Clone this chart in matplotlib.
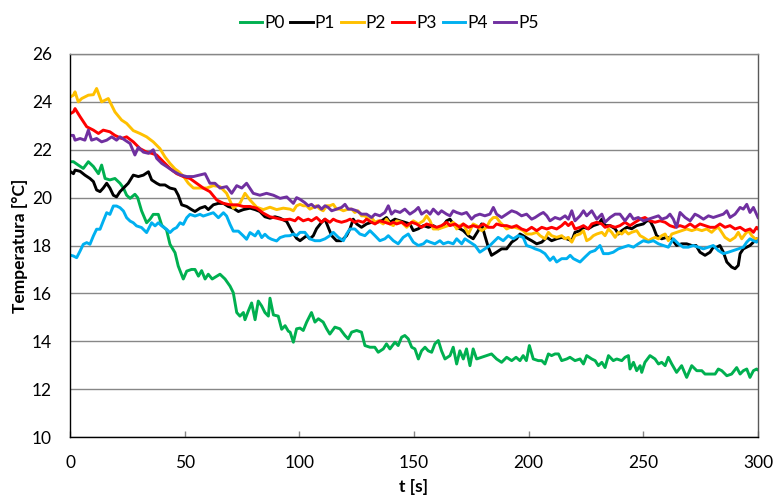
import matplotlib
matplotlib.use("Agg")
import matplotlib.pyplot as plt

# ---- data (time [s], temperature [°C]) ----
t_p0 = [0, 1.5, 3.6, 5.8, 8, 10.2, 12.4, 13.8, 15.3, 17.4, 19.6, 21.8, 23.3, 24.7, 26.2, 28.3, 29.5, 31.2, 33.4, 34.9,
        36.3, 38.5, 40, 42.1, 43.6, 45.8, 47.2, 49.4, 50.9, 53, 54.5, 56, 57.4, 58.9, 60.3, 62, 64, 65.4, 67.6, 69.8,
        71.2, 72.7, 74.1, 75.6, 76.3, 77.7, 79.2, 80.7, 82.1, 83.6, 85, 86.5, 87.2, 88.7, 90.8, 92.3, 93.8, 95.2, 96,
        97.4, 98.8, 100.3, 101.7, 103.2, 105.3, 106.8, 108.3, 110.4, 111.9, 113.3, 115.5, 117.7, 119.9, 121.3, 122.8,
        125, 127.1, 128.6, 130.8, 132.9, 134.4, 136.6, 138, 139.5, 141.7, 143.1, 144.6, 146, 147.5, 149, 150.4, 151.9,
        153.3, 154.8, 156.2, 157.7, 159.1, 160.6, 162, 163.5, 165.7, 167.1, 168.6, 170, 171.5, 172.9, 174.4, 175.8,
        177.3, 179.5, 181.7, 183.8, 186, 188.2, 190.4, 192.6, 194.5, 196.2, 197.6, 199, 200.3, 202, 204.2, 205.7,
        207.1, 208.6, 210, 211.5, 213, 214.4, 216.6, 218, 220.2, 222.4, 223.9, 225.3, 227.5, 229, 230.4, 231.9, 233.3,
        234.8, 236.9, 238.4, 240.6, 242, 243.5, 244.2, 245.7, 247.1, 248.6, 249.3, 250.7, 252.9, 255.1, 256.6, 258,
        259.5, 260.9, 262.4, 264.5, 266.7, 268.9, 271.1, 273.3, 275.5, 276.9, 279.1, 281.3, 282.7, 284.2, 286.4,
        288.5, 290.7, 292.2, 293.6, 295.1, 296.5, 298, 299.4, 300]
T_p0 = [21.5, 21.5, 21.36, 21.22, 21.5, 21.3, 21.0, 21.36, 20.8, 20.74, 20.8, 20.6, 20.4, 20.1, 19.97, 20.14, 20.0,
        19.45, 18.95, 19.1, 19.3, 19.3, 18.85, 18.65, 18.05, 17.7, 17.14, 16.6, 16.93, 17.0, 17.0, 16.72, 16.95, 16.6,
        16.8, 16.6, 16.72, 16.8, 16.6, 16.3, 16.03, 15.2, 15.05, 15.2, 14.9, 15.25, 15.6, 14.9, 15.68, 15.47, 15.2,
        15.05, 15.8, 15.1, 15.05, 14.5, 14.65, 14.42, 14.38, 13.96, 14.52, 14.55, 14.45, 14.8, 15.2, 14.8, 14.94, 14.8,
        14.52, 14.3, 14.59, 14.52, 14.24, 14.1, 14.38, 14.45, 14.38, 13.82, 13.75, 13.75, 13.54, 13.68, 13.89, 13.68,
        13.96, 13.82, 14.17, 14.24, 14.1, 13.75, 13.68, 13.26, 13.6, 13.75, 13.6, 13.54, 13.89, 14.03, 13.6, 13.26,
        13.4, 13.75, 13.05, 13.6, 13.26, 13.68, 12.98, 13.68, 13.26, 13.33, 13.4, 13.47, 13.26, 13.12, 13.33, 13.19,
        13.33, 13.19, 13.4, 13.19, 13.82, 13.26, 13.19, 13.19, 13.05, 13.47, 13.4, 13.47, 13.47, 13.19, 13.26, 13.33,
        13.19, 13.26, 13.05, 13.4, 13.26, 13.19, 12.98, 13.12, 12.9, 13.4, 13.19, 13.26, 13.19, 13.33, 13.4, 12.84,
        13.12, 12.77, 12.98, 12.7, 13.12, 13.4, 13.26, 13.05, 13.12, 12.98, 13.33, 13.05, 12.7, 12.98, 12.49, 12.98,
        12.77, 12.77, 12.63, 12.63, 12.63, 12.84, 12.77, 12.56, 12.63, 12.9, 12.63, 12.77, 12.84, 12.49, 12.77, 12.84,
        12.8]

t_p1 = [0, 1.5, 2.2, 4.4, 6.5, 8.7, 10.2, 11.6, 13.1, 14.5, 16, 17.4, 18.9, 20.3, 21.8, 24, 25.4, 27.6, 29.8, 32,
        34.2, 35.6, 37.8, 39.2, 41.4, 43.6, 45.8, 47.2, 48.7, 50.9, 53, 54.5, 56.7, 58.9, 60.3, 62.5, 64.7, 66.9, 69,
        71.2, 73.4, 75.6, 78.5, 80.7, 82.8, 85, 87.2, 89.4, 91.6, 94.5, 96.7, 98.8, 100.3, 101.7, 103.2, 104.6, 106.1,
        107.5, 109.7, 111.2, 112.6, 114.1, 116.2, 118.4, 120.6, 122.1, 123.5, 125, 127.1, 129.3, 131.5, 133.7, 135.9,
        138, 139.5, 141.7, 143.9, 146, 148.2, 149.7, 151.9, 154.1, 156.3, 158.4, 160.6, 162.8, 164.2, 165.7, 167.1,
        168.6, 170, 171.5, 173.7, 175.8, 178, 179.5, 180.9, 182.4, 183.8, 186, 188.2, 190.4, 192.6, 194.7, 196.2,
        197.6, 199.8, 201.3, 203.5, 205.7, 207.9, 210, 212.2, 214.4, 216.6, 218.8, 220.2, 222.4, 223.9, 226, 228.2,
        230.4, 231.9, 233.3, 235.5, 237.7, 239.1, 240.6, 242.8, 244.9, 247.1, 250, 251.5, 252.9, 254.4, 255.8, 258,
        260.2, 262.4, 264.5, 266.7, 268.9, 271.1, 273, 274.7, 276.9, 279.1, 280.5, 282, 283.4, 284.9, 286.4, 288.5,
        290, 291.4, 292.2, 293.6, 295.1, 296.5, 298, 299.4, 300]
T_p1 = [21.1, 21.0, 21.15, 21.1, 20.94, 20.8, 20.67, 20.32, 20.25, 20.4, 20.6, 20.4, 20.1, 20.03, 20.25, 20.46, 20.6,
        20.94, 20.88, 20.94, 21.08, 20.74, 20.6, 20.53, 20.53, 20.4, 20.35, 20.1, 19.7, 19.63, 19.5, 19.42, 19.56,
        19.63, 19.5, 19.7, 19.76, 19.76, 19.63, 19.56, 19.42, 19.5, 19.56, 19.5, 19.42, 19.2, 19.14, 19.2, 19.14, 19.0,
        18.6, 18.3, 18.2, 18.3, 18.41, 18.28, 18.41, 18.7, 18.97, 19.1, 18.76, 18.41, 18.2, 18.2, 18.41, 18.7, 19.1,
        18.9, 18.76, 18.9, 18.97, 18.97, 19.03, 19.17, 18.97, 19.1, 19.03, 18.97, 18.9, 18.62, 18.7, 18.83, 18.76,
        18.83, 18.7, 18.83, 19.03, 19.1, 18.9, 18.76, 18.7, 18.62, 18.41, 18.28, 18.62, 18.9, 18.41, 17.93, 17.59,
        17.72, 17.86, 17.86, 18.14, 18.28, 18.48, 18.41, 18.28, 18.2, 18.07, 18.14, 18.34, 18.2, 18.28, 18.34, 18.28,
        18.2, 18.55, 18.62, 18.76, 18.7, 18.83, 18.9, 19.1, 18.83, 18.83, 18.7, 18.48, 18.62, 18.76, 18.7, 18.83,
        18.9, 19.03, 19.03, 18.76, 18.41, 18.28, 18.34, 18.28, 18.0, 18.07, 18.07, 18.0, 18.0, 17.72, 17.59, 17.72,
        17.93, 17.93, 18.0, 17.72, 17.31, 17.1, 17.03, 17.17, 17.66, 17.86, 17.93, 18.0, 18.14, 18.28, 18.2]

t_p2 = [0, 1.5, 2.2, 3.6, 5.1, 8, 10.2, 11.6, 13.8, 16.7, 19.6, 22.5, 24.7, 27.6, 30.5, 33.4, 36.3, 39.2, 41.4, 43.6,
        45.8, 47.2, 49.4, 51.6, 53.8, 56.7, 59.6, 62.5, 65.4, 68.3, 71.2, 74.1, 76.3, 78.5, 81.4, 84.3, 87.2, 90.1, 93,
        95.9, 97.4, 98.8, 100.3, 101.7, 103.2, 104.6, 106.1, 107.5, 109, 110.4, 111.9, 113.3, 114.8, 116.2, 117.7,
        119.2, 121.3, 122.8, 124.2, 125.6, 127.1, 128.6, 130, 131.5, 133, 134.4, 136.6, 138, 139.5, 141, 142.4, 144.6,
        146.8, 148.2, 149.7, 151.9, 154.1, 155.5, 157, 158.4, 160.6, 162.8, 164.9, 167.1, 168.6, 170, 171.5, 173.7,
        175.8, 177.3, 179.5, 181.7, 183.1, 184.6, 186, 187.5, 189, 190.4, 192, 194, 196.2, 197.6, 199.1, 201.3, 203.5,
        205, 207.1, 208.6, 210, 212.2, 214.4, 215.9, 217.3, 218.8, 220.2, 222.4, 223.9, 225.3, 226.8, 228.2, 229.7,
        231.9, 233.3, 234.8, 236.2, 237.7, 239.1, 240.6, 242, 243.5, 244.9, 247.1, 248.6, 250, 252.2, 253.7, 255.1,
        256.6, 258, 259.5, 260.9, 262.4, 264.5, 266.7, 268.9, 271.1, 273.3, 275.5, 277.6, 279.8, 281.3, 282.7, 284.2,
        285.6, 287.8, 290, 291.4, 292.9, 294.4, 295.8, 297.3, 298.7, 300]
T_p2 = [24.2, 24.28, 24.42, 24.0, 24.14, 24.28, 24.3, 24.56, 24.0, 24.14, 23.58, 23.24, 23.1, 22.8, 22.68, 22.54,
        22.33, 22.05, 21.7, 21.43, 21.2, 21.1, 20.9, 20.6, 20.4, 20.4, 20.4, 20.5, 20.46, 20.18, 19.56, 19.76, 20.18,
        19.9, 19.6, 19.5, 19.6, 19.5, 19.56, 19.52, 19.45, 19.66, 19.72, 19.66, 19.66, 19.52, 19.59, 19.66, 19.52,
        19.45, 19.66, 19.66, 19.72, 19.52, 19.52, 19.45, 19.52, 19.52, 19.38, 19.45, 19.24, 19.24, 19.1, 19.17, 18.97,
        19.03, 18.9, 19.1, 18.9, 18.83, 19.03, 18.97, 18.76, 18.9, 19.03, 18.9, 19.03, 19.24, 19.03, 18.69, 18.69,
        18.76, 18.83, 18.97, 18.69, 18.83, 18.9, 18.48, 18.9, 18.83, 18.62, 18.76, 19.03, 19.17, 19.17, 18.97, 18.83,
        18.69, 18.76, 18.76, 18.69, 18.62, 18.48, 18.48, 18.55, 18.41, 18.28, 18.55, 18.41, 18.34, 18.41, 18.28, 18.34,
        18.14, 18.41, 18.48, 18.62, 18.2, 18.28, 18.41, 18.48, 18.55, 18.41, 18.69, 18.55, 18.34, 18.55, 18.48, 18.62,
        18.48, 18.55, 18.62, 18.41, 18.34, 18.2, 18.28, 18.34, 18.28, 18.41, 18.48, 18.2, 18.48, 18.55, 18.62, 18.69,
        18.62, 18.69, 18.62, 18.69, 18.55, 18.69, 18.76, 18.55, 18.34, 18.2, 18.34, 18.55, 18.28, 18.48, 18.62, 18.41,
        18.28, 18.28]

t_p3 = [0, 1.5, 2.2, 4.4, 7.3, 10.2, 12.4, 14.5, 17.4, 19.6, 22.5, 24.7, 27.6, 30.5, 33.4, 35.6, 37.8, 40.7, 43.6,
        46.5, 49.4, 52.3, 55.2, 58.1, 61, 64, 66.9, 69.8, 72.7, 75.6, 78.5, 81.4, 84.3, 87.2, 90.1, 93, 95.9, 98.1,
        99.5, 101.7, 103.9, 105.3, 107.5, 109.7, 111.2, 113.3, 114.8, 116.2, 118.4, 120.6, 122.1, 124.2, 125.6, 127.9,
        129.3, 131.5, 133, 135.1, 137.3, 139.5, 141, 142.4, 144.6, 146.8, 149, 151.1, 153.3, 155.5, 157.7, 159.9, 162,
        164.2, 165.7, 167.9, 170, 171.5, 173.7, 175.8, 178, 180.2, 182.4, 184.6, 186, 188.2, 190.4, 192.6, 194.7,
        196.9, 199.1, 201.3, 203.5, 205.7, 207.9, 210, 212.2, 214.4, 215.9, 217.3, 218.8, 220.2, 222.4, 223.9, 226,
        227.5, 229.7, 231.9, 233.3, 235.5, 237.7, 239.8, 242, 244.2, 246.4, 248.6, 250.7, 252.9, 255.1, 257.3, 259.5,
        261.6, 263.8, 266, 268.2, 270.4, 272.5, 274.7, 276.9, 279.1, 281.3, 283.4, 285.6, 287.8, 290, 292.2, 294.4,
        296.5, 298, 299.4, 300]
T_p3 = [23.5, 23.58, 23.72, 23.38, 22.96, 22.82, 22.68, 22.82, 22.75, 22.6, 22.47, 22.54, 22.33, 22.05, 21.9, 21.85,
        21.78, 21.5, 21.22, 21.0, 20.88, 20.8, 20.6, 20.4, 20.25, 19.9, 19.76, 19.7, 19.7, 19.63, 19.63, 19.56, 19.35,
        19.2, 19.14, 19.07, 19.1, 19.03, 19.17, 19.03, 19.1, 19.03, 19.17, 18.97, 19.1, 18.97, 19.1, 19.03, 18.97,
        19.03, 19.1, 18.97, 19.03, 18.97, 19.1, 18.97, 18.9, 19.03, 18.97, 18.9, 18.97, 18.9, 18.97, 18.83, 18.97,
        18.9, 18.76, 18.9, 18.83, 18.76, 18.83, 18.97, 18.83, 18.9, 18.76, 18.9, 18.76, 18.83, 18.76, 18.9, 18.76,
        18.76, 18.9, 18.83, 18.83, 18.76, 18.83, 18.69, 18.62, 18.76, 18.62, 18.76, 18.69, 18.76, 18.69, 18.83, 18.97,
        18.83, 18.97, 18.69, 18.76, 18.83, 18.69, 18.9, 18.97, 18.9, 18.76, 18.83, 18.76, 18.83, 18.97, 18.83, 18.97,
        19.1, 19.17, 19.03, 18.97, 19.03, 18.97, 18.83, 18.76, 18.83, 18.76, 18.9, 18.76, 18.9, 18.83, 18.76, 18.76,
        18.9, 18.76, 18.83, 18.69, 18.76, 18.62, 18.69, 18.55, 18.76, 18.7]

t_p4 = [0, 1.5, 2.9, 4.4, 5.8, 7.3, 8.7, 10.2, 11.6, 13.1, 14.5, 16, 17.4, 18.9, 20.3, 21.8, 23.3, 24.7, 26.2, 27.6,
        29, 31.2, 33.4, 35.6, 37.1, 38.5, 40, 42.1, 43.6, 45.1, 46.5, 48, 49.4, 50.9, 52.3, 54.5, 56.7, 58.1, 60.3,
        62.5, 64.7, 66.9, 68.3, 69.8, 71.2, 73.4, 75.6, 77, 78.5, 80.7, 82.1, 83.6, 85, 86.5, 87.9, 90.1, 91.6, 93.8,
        95.9, 97.4, 98.8, 100.3, 102.4, 104.6, 106.8, 109, 111.2, 113.3, 114.8, 117, 119.2, 120.6, 122.1, 124.2, 126.4,
        128.6, 130.8, 133, 135.1, 137.3, 138.8, 141, 143.1, 145.3, 147.5, 149.7, 151.9, 154.1, 155.5, 157, 159.1,
        161.3, 162.8, 164.9, 167.1, 168.6, 170.8, 172.2, 174.4, 176.6, 178.7, 180.9, 183.1, 184.6, 186.7, 188.9,
        191.1, 193.3, 195.5, 197.6, 199.1, 201.3, 202.8, 205, 207.1, 209.3, 210.8, 212.2, 214.4, 216.6, 218.1, 219.5,
        221, 222.4, 224.6, 226.8, 228.9, 231.1, 232.6, 234.8, 236.9, 239.1, 241.3, 243.5, 245.7, 247.8, 250, 252.2,
        254.4, 256.6, 258.7, 260.9, 263.1, 265.3, 267.4, 269.6, 271.8, 274, 276.2, 278.4, 280.5, 282.7, 284.9, 287.1,
        289.3, 291.4, 293.6, 295.1, 296.5, 298, 299.4, 300]
T_p4 = [17.6, 17.56, 17.49, 17.77, 18.05, 18.12, 18.05, 18.4, 18.68, 18.68, 19.02, 19.37, 19.3, 19.65, 19.65, 19.58,
        19.44, 19.16, 19.02, 18.95, 18.82, 18.75, 18.54, 18.95, 18.82, 18.95, 18.82, 18.68, 18.54, 18.68, 18.75, 18.95,
        18.88, 19.16, 19.3, 19.23, 19.3, 19.23, 19.3, 19.37, 19.16, 19.37, 19.23, 18.88, 18.6, 18.6, 18.4, 18.26,
        18.54, 18.4, 18.6, 18.33, 18.47, 18.33, 18.26, 18.19, 18.33, 18.4, 18.41, 18.48, 18.41, 18.55, 18.55, 18.28,
        18.2, 18.2, 18.28, 18.41, 18.55, 18.34, 18.2, 18.48, 18.69, 18.69, 18.48, 18.41, 18.62, 18.41, 18.2, 18.28,
        18.41, 18.2, 18.07, 18.34, 18.48, 18.14, 18.0, 18.07, 18.2, 18.14, 18.07, 18.2, 18.07, 18.14, 18.07, 18.28,
        18.07, 18.28, 18.14, 18.0, 17.72, 17.86, 18.0, 18.14, 18.34, 18.2, 18.41, 18.28, 18.41, 18.34, 18.0, 17.93,
        17.86, 17.79, 17.66, 17.38, 17.52, 17.31, 17.45, 17.45, 17.59, 17.45, 17.38, 17.31, 17.52, 17.72, 17.79, 18.0,
        17.66, 17.66, 17.72, 17.86, 17.93, 18.0, 17.93, 18.07, 18.2, 18.14, 18.2, 18.07, 18.0, 17.93, 18.28, 18.07,
        17.93, 17.93, 18.0, 17.93, 17.86, 17.93, 18.0, 17.79, 17.66, 17.72, 17.79, 17.86, 17.93, 18.14, 18.28, 18.2,
        18.14, 18.2]

t_p5 = [0, 1.5, 2.2, 4.4, 6.5, 8, 9.4, 11.6, 13.8, 16, 18.2, 20.3, 21.8, 24, 26.2, 28.3, 29.8, 32, 34.2, 36.3, 37.8,
        40, 42.1, 45.1, 48, 50.9, 53.8, 56.7, 58.9, 61, 63.2, 65.4, 68.3, 70.5, 72.7, 74.9, 77, 79.9, 82.8, 85.7, 88.7,
        91.6, 94.5, 97.4, 98.8, 100.3, 102.4, 103.9, 105.3, 106.8, 108.3, 109.7, 111.2, 112.6, 114.1, 116.2, 118.4,
        119.9, 121.3, 122.8, 125, 127.1, 129.3, 131.5, 133, 135.1, 137.3, 138.8, 140.2, 141.7, 143.9, 146, 148.2,
        150.4, 151.9, 153.3, 155.5, 157, 158.4, 160.6, 162, 164.2, 165.7, 167.1, 168.6, 170.8, 172.9, 175.1, 176.6,
        178.7, 180.9, 183.1, 184.6, 186, 188.2, 190.4, 192.6, 194.7, 196.9, 199.1, 201.3, 202.8, 205, 206.4, 207.9,
        209.3, 211.5, 213.7, 215.9, 217.3, 218.8, 220.2, 222.4, 223.9, 225.3, 227.5, 229.7, 231.9, 233.3, 235.5,
        237.7, 239.8, 242, 244.2, 245.7, 247.8, 250, 252.2, 254.4, 256.6, 258, 260.2, 261.6, 263.1, 264.5, 266, 268.2,
        270.4, 272.5, 274, 276.2, 278.4, 280.5, 282.7, 284.9, 286.4, 287.8, 290, 292.2, 293.6, 295.1, 296.5, 298, 300]
T_p5 = [22.6, 22.6, 22.4, 22.47, 22.4, 22.82, 22.4, 22.47, 22.33, 22.4, 22.54, 22.4, 22.54, 22.4, 22.26, 21.78, 22.1,
        21.9, 21.85, 22.0, 21.64, 21.43, 21.3, 21.1, 20.95, 20.88, 20.88, 20.95, 21.0, 20.6, 20.6, 20.4, 20.46, 20.18,
        20.5, 20.4, 20.6, 20.18, 20.1, 20.18, 20.1, 19.97, 20.03, 19.76, 20.0, 19.93, 19.79, 19.66, 19.72, 19.59,
        19.66, 19.52, 19.66, 19.59, 19.45, 19.52, 19.59, 19.72, 19.52, 19.52, 19.45, 19.31, 19.31, 19.17, 19.31, 19.24,
        19.38, 19.66, 19.31, 19.45, 19.38, 19.52, 19.31, 19.45, 19.59, 19.31, 19.45, 19.31, 19.52, 19.31, 19.45, 19.31,
        19.24, 19.45, 19.38, 19.31, 19.38, 19.1, 19.24, 19.31, 19.24, 19.31, 19.59, 19.31, 19.17, 19.31, 19.45, 19.38,
        19.24, 19.31, 19.1, 19.17, 19.31, 19.38, 19.24, 19.03, 19.17, 19.1, 19.24, 19.1, 19.45, 19.03, 19.24, 19.45,
        19.24, 19.45, 19.1, 19.31, 18.97, 19.17, 19.31, 19.31, 19.03, 19.31, 19.1, 19.17, 19.03, 19.1, 19.17, 19.24,
        19.1, 19.17, 19.31, 19.1, 18.76, 19.38, 19.17, 19.03, 19.31, 19.24, 19.1, 19.24, 19.17, 19.24, 19.31, 19.45,
        19.17, 19.31, 19.59, 19.52, 19.72, 19.38, 19.59, 19.17]

series_names = ["P0", "P1", "P2", "P3", "P4", "P5"]
series_colors = ["#00B050", "#000000", "#FFC000", "#FF0000", "#00B0F0", "#7030A0"]
series_t = [t_p0, t_p1, t_p2, t_p3, t_p4, t_p5]
series_T = [T_p0, T_p1, T_p2, T_p3, T_p4, T_p5]

x_ticks = [0, 50, 100, 150, 200, 250, 300]
y_ticks = [10, 12, 14, 16, 18, 20, 22, 24, 26]

plt.rcParams['font.family'] = ['Lato', 'DejaVu Sans']

fig = plt.figure(figsize=(7.74, 5.00), dpi=100)
ax = fig.add_axes([70 / 774, 63 / 500, 688 / 774, 383 / 500])

for name, col, tt, TT in zip(series_names, series_colors, series_t, series_T):
    ax.plot(tt, TT, color=col, lw=2.1, label=name, solid_joinstyle='round')

ax.set_xlim(0, 300)
ax.set_ylim(10, 26)
ax.set_xticks(x_ticks)
ax.set_yticks(y_ticks)
ax.tick_params(axis='x', direction='in', length=4, width=1, color='#878787', labelsize=12.5, pad=13,
               labelcolor='#000000')
ax.tick_params(axis='y', length=0, labelsize=12.5, pad=13, labelcolor='#000000')
ax.yaxis.grid(True, color='#878787', lw=1.0)
ax.set_axisbelow(True)
for side in ['left', 'bottom']:
    ax.spines[side].set_color('#000000')
    ax.spines[side].set_linewidth(1.0)
ax.spines['top'].set_color('#878787')
ax.spines['right'].set_color('#595959')
ax.spines['top'].set_linewidth(1.0)
ax.spines['right'].set_linewidth(1.0)

ax.set_xlabel("t [s]", fontsize=12.5, fontweight='bold', labelpad=6)
ax.set_ylabel("Temperatura [°C]", fontsize=12.5, fontweight='bold', labelpad=3)

ax.legend(loc='center', bbox_to_anchor=(389 / 774, 477 / 500), bbox_transform=fig.transFigure,
          ncol=6, frameon=False, fontsize=12.5, handlelength=1.3, handletextpad=0.1, columnspacing=0.35,
          borderpad=0.2)

fig.savefig("out.png", dpi=100)
